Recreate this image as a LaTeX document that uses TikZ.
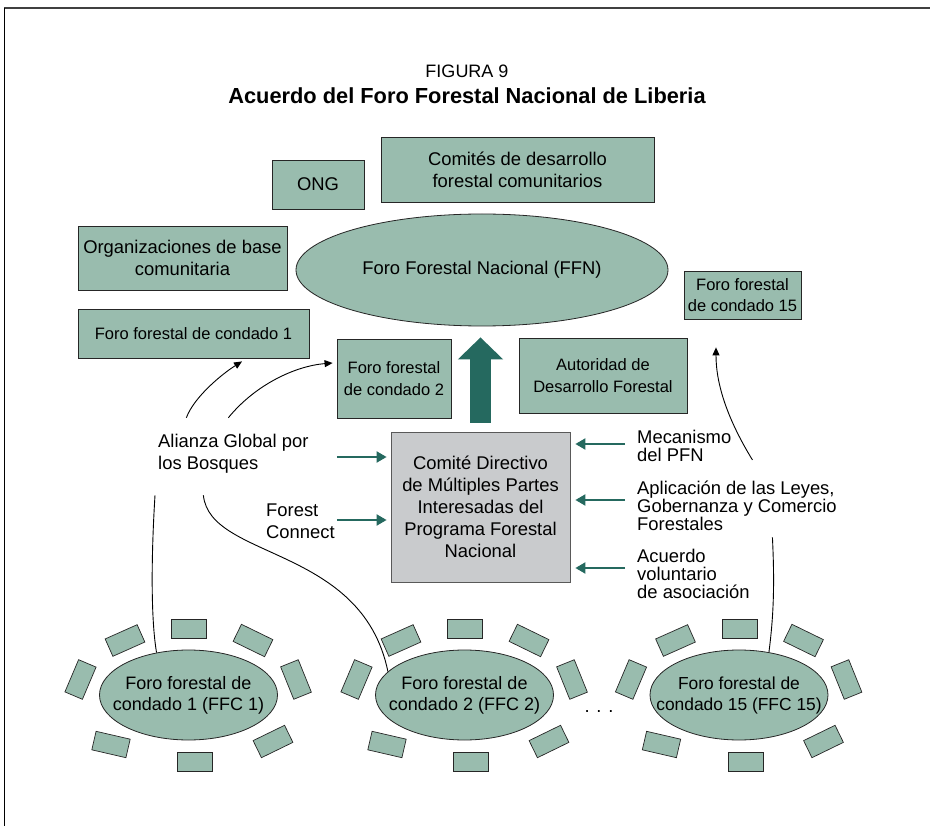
\documentclass[tikz,border=0pt]{standalone}
\usepackage{fontspec}
\setmainfont{Liberation Sans}
\usetikzlibrary{arrows.meta,shapes.geometric}

\definecolor{verde}{HTML}{99BCAE}
\definecolor{tealosc}{HTML}{25695F}
\definecolor{grisclaro}{HTML}{C9CBCD}

\tikzset{
  caja/.style={draw=black!85, fill=verde, line width=0.8pt, align=center, inner sep=0pt},
  cajachica/.style={caja, font=\fontsize{16.5}{21.7}\selectfont},
  mesa/.style={ellipse, draw=black!85, fill=verde, line width=0.8pt, inner sep=0pt,
    minimum width=178pt, minimum height=90pt},
  mesatexto/.style={align=center, inner sep=0pt, font=\fontsize{18}{21}\selectfont},
  silla/.style={draw=black!85, fill=verde, line width=0.7pt, minimum width=35pt, minimum height=19pt, inner sep=0pt},
  etiq/.style={align=left, anchor=west, inner sep=0pt},
  etiqder/.style={etiq, font=\fontsize{18.4}{18}\selectfont},
  flecha/.style={-{Triangle[width=11pt,length=10pt]}, line width=2pt, tealosc},
  curva/.style={-{Triangle[width=7pt,length=8pt]}, line width=0.9pt},
  linea/.style={line width=0.9pt},
}

\begin{document}
\begin{tikzpicture}[x=1pt, y=-1pt, font=\fontsize{18.4}{22}\selectfont]
  \useasboundingbox (0,0) rectangle (930,826);

  % Marco
  \draw[line width=2pt, black!75] (930,8) -- (4,8);
  \draw[line width=1pt] (4,8) -- (4,826);

  % Titulo
  \node[font=\fontsize{18}{22}\selectfont] (figura) at (467,71) {FIGURA 9};
  \node[font=\fontsize{21.8}{26}\selectfont\bfseries] (titulo) at (467,96) {Acuerdo del Foro Forestal Nacional de Liberia};

  % Foro nacional y grupos
  \node[caja, minimum width=92pt, minimum height=49pt] (ong) at (318,184.5) {ONG};
  \node[caja, minimum width=273pt, minimum height=65pt] (comites) at (517.5,169.5) {Comités de desarrollo\\forestal comunitarios};
  \node[caja, minimum width=209pt, minimum height=64pt] (organiz) at (182.5,258) {Organizaciones de base\\comunitaria};
  \node[mesa, minimum width=372pt, minimum height=112pt] (ffn) at (482,270) {};
  \node[mesatexto, font=\fontsize{18.4}{22}\selectfont] (ffnt) at (ffn) {Foro Forestal Nacional (FFN)};
  \node[cajachica, minimum width=117pt, minimum height=48pt] (cond15) at (742.5,295) {Foro forestal\\de condado 15};
  \node[cajachica, minimum width=231pt, minimum height=49pt] (cond1) at (193.5,333.5) {Foro forestal de condado 1};
  \node[cajachica, minimum width=114pt, minimum height=79pt] (cond2) at (394,378.5) {Foro forestal\\de condado 2};
  \node[cajachica, minimum width=168pt, minimum height=75pt] (autoridad) at (603,375.5) {Autoridad de\\Desarrollo Forestal};

  % Comite directivo
  \node[caja, fill=grisclaro, draw=black!65, minimum width=179pt, minimum height=150pt] (comite) at (480.5,507)
    {Comité Directivo\\de Múltiples Partes\\Interesadas del\\Programa Forestal\\Nacional};

  % Flecha grande hacia el FFN
  \draw[-{Triangle[width=44pt,length=22pt]}, line width=21pt, tealosc, shorten <=9pt, shorten >=11pt]
    (comite.north) -- (comite.north |- ffn.south);

  % Textos laterales
  \node[etiq] (alianza) at (158,453.5) {Alianza Global por\\los Bosques};
  \node[etiq] (forest) at (266,521.5) {Forest\\Connect};
  \node[etiqder] (mecanismo) at (637,446) {Mecanismo\\del PFN};
  \node[etiqder] (aplicacion) at (637,506) {Aplicación de las Leyes,\\Gobernanza y Comercio\\Forestales};
  \node[etiqder] (acuerdo) at (637,574) {Acuerdo\\voluntario\\de asociación};

  % Flechas hacia el comite
  \coordinate (a1) at ([shift={(28,3.5)}]alianza.east);
  \coordinate (f1) at ([shift={(2,-1.5)}]forest.east);
  \coordinate (m1) at ([shift={(-12,-2)}]mecanismo.west);
  \coordinate (p1) at ([shift={(-12,-6)}]aplicacion.west);
  \coordinate (v1) at ([shift={(-12,-6)}]acuerdo.west);
  \draw[flecha, shorten >=4pt] (a1) -- (a1 -| comite.west);
  \draw[flecha, shorten >=4pt] (f1) -- (f1 -| comite.west);
  \draw[flecha, shorten >=5pt] (m1) -- (m1 -| comite.east);
  \draw[flecha, shorten >=5pt] (p1) -- (p1 -| comite.east);
  \draw[flecha, shorten >=5pt] (v1) -- (v1 -| comite.east);

  % Foros de condado (mesas y sillas)
  \node[mesa] (ffc1) at (188.5,695) {};
  \node[mesa] (ffc2) at (464.5,695) {};
  \node[mesa] (ffc15) at (739,695) {};
  \node[mesatexto] (ffc1t) at (ffc1) {Foro forestal de\\condado 1 (FFC 1)};
  \node[mesatexto] (ffc2t) at (ffc2) {Foro forestal de\\condado 2 (FFC 2)};
  \node[mesatexto, font=\fontsize{17.4}{21}\selectfont] (ffc15t) at (ffc15) {Foro forestal de\\condado 15 (FFC 15)};
  \foreach \m in {ffc1,ffc2,ffc15}
    \foreach \dx/\dy/\ang [count=\i] in {0.5/-66/0, 64.5/-54.5/-26, 107.5/-15.5/-68, 84.5/46.5/26,
                                          6.5/66.5/0, -77.5/49.5/-13, -108/-15.5/67, -63.5/-54.5/24}
      \node[silla, rotate=\ang] (\m-s\i) at ([shift={(\dx,\dy)}]\m.center) {};
  \node[anchor=base] (puntos) at (599,712) {. . .};

  % Conexiones
  \draw[curva] ([shift={(-47,-16)}]alianza.north) .. controls (194,397) and (222,374) .. ([shift={(48.5,3)}]cond1.south);
  \draw[curva] ([shift={(-5,-16)}]alianza.north) .. controls (255,385) and (295,366) .. ([shift={(-4,-15.5)}]cond2.west);
  \draw[linea] ([shift={(-3,22)}]alianza.south west) .. controls (151,560) and (151,620) .. (ffc1.127);
  \draw[linea] ([shift={(-30,22)}]alianza.south) .. controls (210,560) and (362,545) .. (ffc2.163);
  \draw[linea] (ffc15.55) .. controls (773,620) and (775,590) .. ([shift={(-64.4,6.3)}]aplicacion.south east);
  \draw[curva] ([shift={(21,14)}]mecanismo.east) .. controls (728,420) and (716,385) .. ([shift={(-26.5,28)}]cond15.south);
\end{tikzpicture}
\end{document}
